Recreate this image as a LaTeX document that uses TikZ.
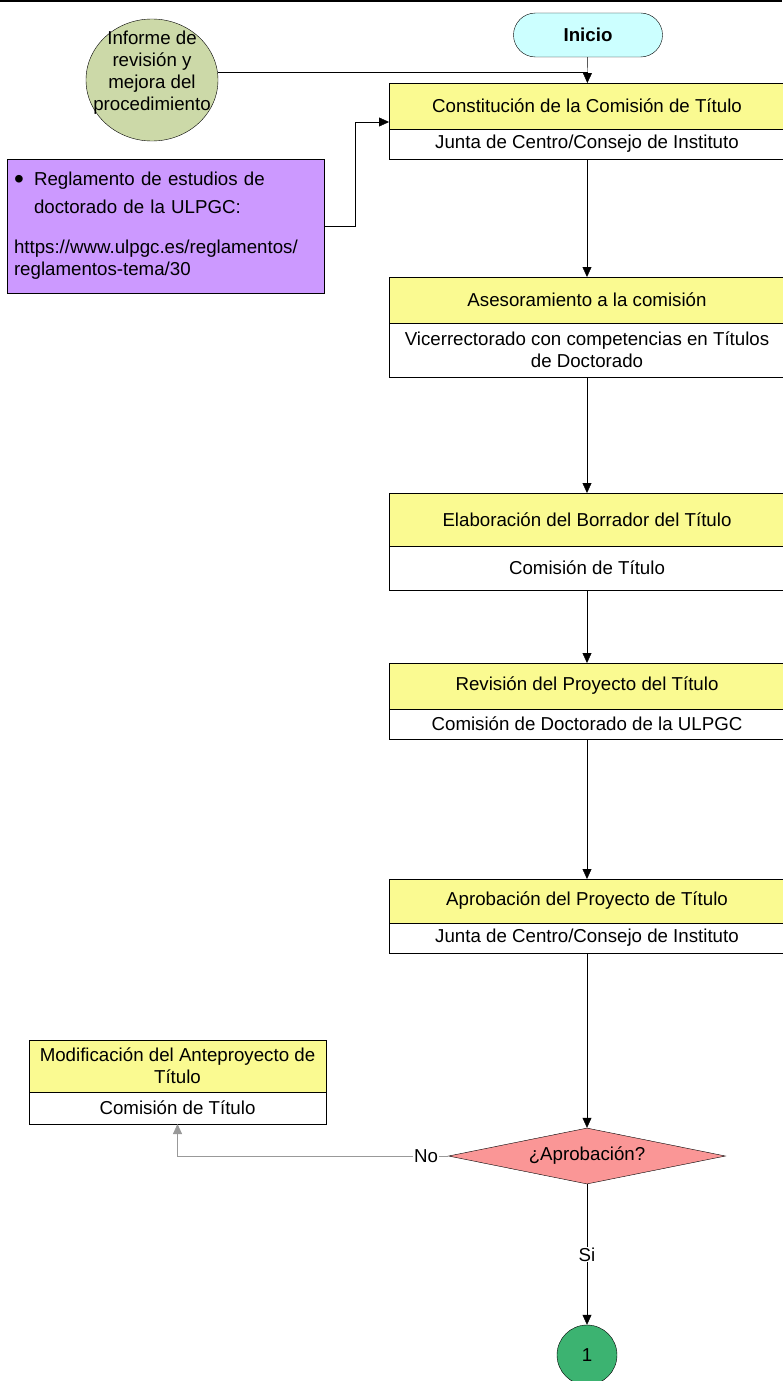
\documentclass[tikz,border=0pt]{standalone}
\usepackage{fontspec}
\setmainfont{Liberation Sans}
\usetikzlibrary{shapes.geometric, arrows.meta, positioning}
\definecolor{tareaAmarillo}{RGB}{250,250,145}
\definecolor{inicioCian}{RGB}{204,255,255}
\definecolor{informeVerde}{RGB}{204,217,168}
\definecolor{notaMorado}{RGB}{204,153,255}
\definecolor{decisionRosa}{RGB}{250,150,150}
\definecolor{finVerde}{RGB}{60,179,113}
\definecolor{lineaGris}{RGB}{153,153,153}

\begin{document}
\begin{tikzpicture}[x=1pt, y=-1pt,
    font=\fontsize{18.7}{22}\selectfont,
    tarea/.style={rectangle, draw, fill=tareaAmarillo, minimum width=396pt, inner sep=2pt, outer sep=0pt, align=center},
    resp/.style={rectangle, draw, fill=white, minimum width=396pt, inner sep=2pt, outer sep=0pt, align=center},
    nota/.style={rectangle, draw, fill=notaMorado, text width=303pt, inner xsep=7pt, minimum height=134pt, align=left},
    arrow/.style={-{Triangle[length=10pt, width=9pt]}},
    gris/.style={draw=lineaGris, thick}
]
\useasboundingbox (0,0) rectangle (782,1381);
\draw[line width=2pt] (0,1) -- (782,1);

\node[rectangle, draw, rounded corners=22pt, fill=inicioCian, minimum width=149pt, minimum height=44pt, font=\fontsize{18.7}{22}\selectfont\bfseries] (inicio) at (588,35) {Inicio};
\node[ellipse, draw, fill=informeVerde, minimum width=132pt, minimum height=122pt, inner sep=0pt] (informe) at (152,80) {};
\node[align=center, inner sep=0pt] (informeTxt) at (152,73) {Informe de\\revisión y\\mejora del\\procedimiento};
\node[nota] (reglamento) at (165.5,226) {\makebox[20pt][l]{\raisebox{-3pt}{\fontsize{28}{22}\selectfont\textbullet}}Reglamento de estudios de\\[6pt]\hspace*{20pt}doctorado de la ULPGC:\\[18pt]https://www.ulpgc.es/reglamentos/\\reglamentos-tema/30};

% columna principal
\node[tarea, minimum height=46pt] (constTit) at (587,106) {Constitución de la Comisión de Título};
\node[resp, minimum height=30pt, below=0pt of constTit] (constResp) {Junta de Centro/Consejo de Instituto};
\node[tarea, minimum height=46pt] (asesTit) at (587,300) {Asesoramiento a la comisión};
\node[resp, minimum height=54pt, below=0pt of asesTit] (asesResp) {Vicerrectorado con competencias en Títulos\\de Doctorado};
\node[tarea, minimum height=53pt] (elabTit) at (587,519.5) {Elaboración del Borrador del Título};
\node[resp, minimum height=44pt, below=0pt of elabTit] (elabResp) {Comisión de Título};
\node[tarea, minimum height=46pt] (revTit) at (587,686) {Revisión del Proyecto del Título};
\node[resp, minimum height=30pt, below=0pt of revTit] (revResp) {Comisión de Doctorado de la ULPGC};
\node[tarea, minimum height=44pt] (aprTit) at (587,901) {Aprobación del Proyecto de Título};
\node[resp, minimum height=30pt, below=0pt of aprTit] (aprResp) {Junta de Centro/Consejo de Instituto};
\node[diamond, draw, fill=decisionRosa, aspect=5, minimum width=277pt, minimum height=56pt, inner sep=0pt] (aprob) at (587,1156) {¿Aprobación?};
\node[circle, draw, fill=finVerde, minimum size=60pt, inner sep=0pt] (fin) at (587,1355) {1};

% rama de modificacion
\node[tarea, minimum width=297pt, minimum height=52pt] (modTit) at (177.5,1066) {Modificación del Anteproyecto de\\Título};
\node[resp, minimum width=297pt, minimum height=32pt, below=0pt of modTit] (modResp) {Comisión de Título};
\node[inner sep=1pt] (noLbl) at (426,1156) {No};

\draw (informe.7) -- (informe.7 -| inicio.south);
\draw[arrow] (inicio) -- (constTit);
\draw[arrow] (reglamento.east) -- ++(31,0) |- ([yshift=-16pt]constTit.west);
\draw[arrow] (constResp) -- (asesTit);
\draw[arrow] (asesResp) -- (elabTit);
\draw[arrow] (elabResp) -- (revTit);
\draw[arrow] (revResp) -- (aprTit);
\draw[arrow] (aprResp) -- (aprob);
\draw[arrow] (aprob) -- node[fill=white, inner sep=1pt] (siLbl) {Si} (fin);
\draw[gris] (aprob) -- (noLbl);
\draw[gris, arrow] (noLbl) -| (modResp.south);
\end{tikzpicture}
\end{document}
